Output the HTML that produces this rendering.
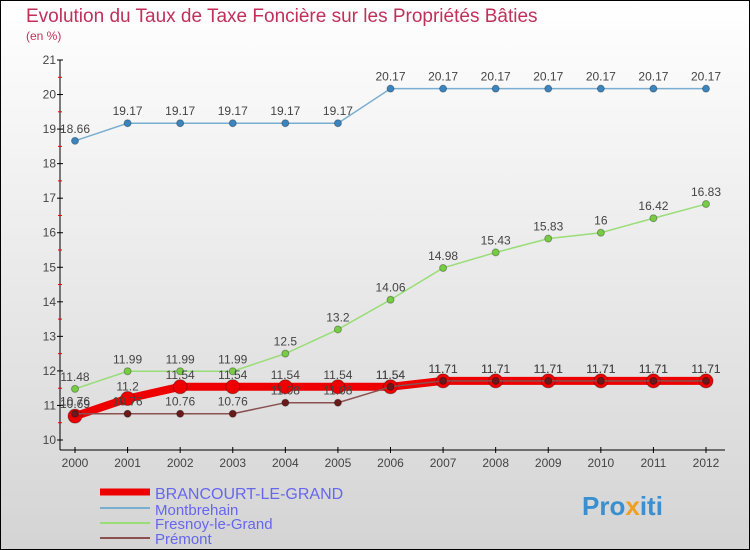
<!DOCTYPE html>
<html><head><meta charset="utf-8"><style>
body{margin:0}
svg{display:block;font-family:"Liberation Sans",sans-serif}
</style></head><body>
<svg id="c" width="750" height="550">
<defs><linearGradient id="bg" x1="0" y1="0" x2="0" y2="1"><stop offset="0" stop-color="#ffffff"/><stop offset="1" stop-color="#d4d4d4"/></linearGradient></defs>
<rect x="0.5" y="0.5" width="749" height="549" fill="url(#bg)" stroke="#000"/>
<text x="26" y="22" font-size="19" fill="#c0305a">Evolution du Taux de Taxe Foncière sur les Propriétés Bâties</text>
<text x="26" y="40" font-size="12" fill="#c0305a">(en %)</text>
<g id="axes"></g><g id="series"></g>
<g>
<line x1="100" y1="492" x2="150" y2="492" stroke="#e00" stroke-width="7"/>
<text x="155" y="499" font-size="16" fill="#6666ee">BRANCOURT-LE-GRAND</text>
<line x1="100" y1="508" x2="150" y2="508" stroke="#7aaed0" stroke-width="2"/>
<text x="155" y="515" font-size="15" fill="#6666ee">Montbrehain</text>
<line x1="100" y1="523" x2="150" y2="523" stroke="#99dd77" stroke-width="2"/>
<text x="155" y="529" font-size="15" fill="#6666ee">Fresnoy-le-Grand</text>
<line x1="100" y1="538" x2="150" y2="538" stroke="#8b5050" stroke-width="2"/>
<text x="155" y="544" font-size="15" fill="#6666ee">Prémont</text>
</g>
<text x="582" y="515" font-size="26" font-weight="bold" fill="#3a8fd0">Pro<tspan fill="#f0a020">x</tspan>iti</text>
</svg>
<script>
const years=[2000,2001,2002,2003,2004,2005,2006,2007,2008,2009,2010,2011,2012];
const yTicks=[10,11,12,13,14,15,16,17,18,19,20,21];
const brancourt=[10.69,11.2,11.54,11.54,11.54,11.54,11.54,11.71,11.71,11.71,11.71,11.71,11.71];
const montbrehain=[18.66,19.17,19.17,19.17,19.17,19.17,20.17,20.17,20.17,20.17,20.17,20.17,20.17];
const fresnoy=[11.48,11.99,11.99,11.99,12.5,13.2,14.06,14.98,15.43,15.83,16,16.42,16.83];
const premont=[10.76,10.76,10.76,10.76,11.08,11.08,11.54,11.71,11.71,11.71,11.71,11.71,11.71];
const NS="http://www.w3.org/2000/svg";
const X=i=>75+i*(631/12), Y=v=>440-(v-10)*(380/11);
function mk(t,a,p){const e=document.createElementNS(NS,t);for(const k in a)e.setAttribute(k,a[k]);p.appendChild(e);return e;}
const ax=document.getElementById('axes');
let l=mk('line',{x1:60,y1:60,x2:60,y2:450,stroke:'#000'},ax);


l=mk('line',{x1:60,y1:450,x2:725,y2:450,stroke:'#000'},ax);


yTicks.forEach(v=>{mk('line',{x1:57,y1:Y(v),x2:63,y2:Y(v),stroke:'#000'},ax);
 if(v<21)mk('line',{x1:58,y1:Y(v+0.5),x2:62,y2:Y(v+0.5),stroke:'#e00'},ax);
 const t=mk('text',{x:56,y:Y(v)+4,'font-size':12,'text-anchor':'end',fill:'#444'},ax);t.textContent=v;
 
 });
years.forEach((y,i)=>{mk('line',{x1:X(i),y1:447,x2:X(i),y2:453,stroke:'#000'},ax);
 const t=mk('text',{x:X(i),y:467,'font-size':12,'text-anchor':'middle',fill:'#444'},ax);t.textContent=y;
 
 });
const sg=document.getElementById('series');
function draw(d,name,col,dot,w,r,lbl){
 const g=mk('g',{},sg);
 
 
 mk('polyline',{points:d.map((v,i)=>X(i)+','+Y(v)).join(' '),fill:'none',stroke:col,'stroke-width':w},g);
 d.forEach((v,i)=>{const c=mk('circle',{cx:X(i),cy:Y(v),r:r,fill:dot,stroke:'rgba(0,0,0,0.3)'},g);
  
  
  if(lbl){const t=mk('text',{x:X(i),y:Y(v)-8,'font-size':12,'text-anchor':'middle',fill:'#444'},g);t.textContent=v;}});
}
draw(montbrehain,'montbrehain-series','#7aaed0','#3a85c0',1.5,3.5,true);
draw(fresnoy,'fresnoy-series','#99dd77','#77cc44',1.5,3.5,true);
draw(brancourt,'brancourt-series','#ee0000','#ee0000',8,7,true);
draw(premont,'premont-series','#8b5050','#6a1a1a',1.5,3.5,true);
</script>
</body></html>
